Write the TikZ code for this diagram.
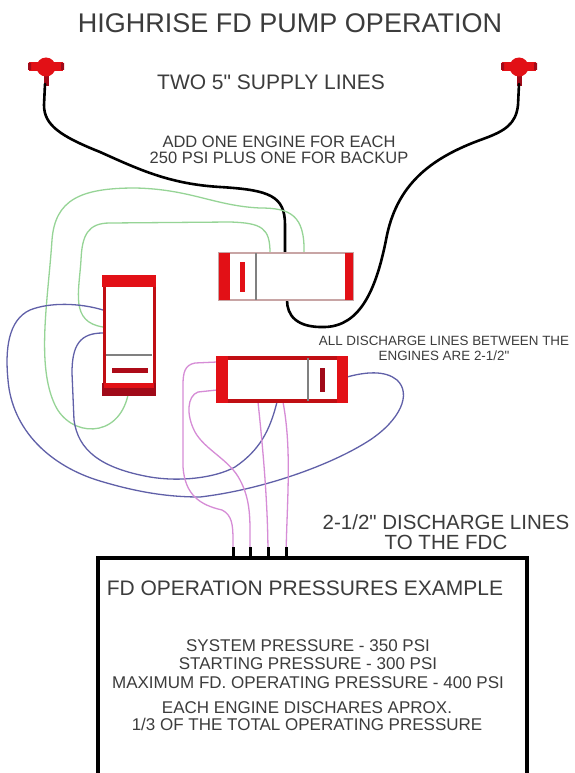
\documentclass[tikz,border=0pt]{standalone}
\usepackage{fontspec}
\setmainfont{Liberation Sans}[Ligatures=TeXOff]
\definecolor{pumpred}{RGB}{226,16,22}
\definecolor{darkred}{RGB}{160,10,25}
\definecolor{hosegreen}{RGB}{150,212,150}
\definecolor{hoseblue}{RGB}{96,96,168}
\definecolor{hosepink}{RGB}{214,140,214}
\definecolor{txt}{RGB}{60,60,60}
\newcommand{\inch}{\symbol{34}}
\tikzset{
  supply/.style={line width=2.6pt,black,line cap=round},
  hose/.style={line width=1.3pt,draw=#1},
  label/.style={text=txt,inner sep=0pt,align=center},
}
\begin{document}
\begin{tikzpicture}[x=1pt,y=-1pt]
  \useasboundingbox (0,0) rectangle (574,773);
  \fill[white] (0,0) rectangle (574,773);
  % titles
  \node[label,font=\fontsize{27}{30}\selectfont] (title) at (290,23) {HIGHRISE FD PUMP OPERATION};
  \node[label,font=\fontsize{21}{24}\selectfont] (twolines) at (271,82) {TWO 5\inch{} SUPPLY LINES};
  \node[label,font=\fontsize{16.5}{16}\selectfont] (addone) at (279,150) {ADD ONE ENGINE FOR EACH\\250 PSI PLUS ONE FOR BACKUP};
  \node[label,font=\fontsize{13.4}{15}\selectfont] (between) at (444,348) {ALL DISCHARGE LINES BETWEEN THE\\ENGINES ARE 2-1/2\inch};
  \node[label,font=\fontsize{20.5}{20}\selectfont] (fdclines) at (446,532) {2-1/2\inch{} DISCHARGE LINES\\TO THE FDC};
  % hydrants
  \foreach \hx in {46,519}{
    \fill[darkred] (\hx-2.5,74) rectangle (\hx+2.5,86);
    \fill[pumpred] (\hx-17,62) rectangle (\hx+17,71);
    \fill[darkred] (\hx-18,63) rectangle (\hx-15,70) (\hx+15,63) rectangle (\hx+18,70);
    \fill[pumpred] (\hx,67) circle (9.5);
  }
  % supply lines
  \draw[supply] (45,84) -- (44,105) .. controls (44,125) and (60,136) .. (100,152)
    .. controls (140,170) and (170,184) .. (220,187)
    .. controls (270,190) and (285,196) .. (285,225) -- (285,253);
  \draw[supply] (519,84) -- (518,105) .. controls (516,124) and (505,131) .. (483,139)
    .. controls (430,158) and (396,185) .. (386,240)
    .. controls (376,290) and (360,326) .. (325,327)
    .. controls (296,328) and (287,315) .. (287,300);
  % hoses between engines
  \draw[hose=hosegreen] (304,253) .. controls (305,215) and (290,208) .. (260,208)
    .. controls (215,206) and (190,189) .. (135,188)
    .. controls (80,188) and (55,200) .. (52,240)
    .. controls (48,300) and (36,365) .. (55,405)
    .. controls (70,437) and (118,440) .. (128,395);
  \draw[hose=hosegreen] (270,253) .. controls (270,228) and (262,223) .. (230,222) -- (110,223)
    .. controls (88,223) and (82,235) .. (81,260)
    .. controls (79,292) and (70,322) .. (103,327);
  \draw[hose=hoseblue] (103,310) .. controls (80,303) and (50,302) .. (30,310)
    .. controls (8,320) and (5,350) .. (8,380)
    .. controls (12,430) and (50,466) .. (100,481)
    .. controls (140,493) and (170,497) .. (200,497)
    .. controls (260,490) and (330,466) .. (370,440)
    .. controls (400,420) and (412,394) .. (397,380)
    .. controls (385,370) and (365,372) .. (347,377);
  \draw[hose=hoseblue] (103,333) .. controls (80,333) and (72,345) .. (72,373) -- (74,420)
    .. controls (78,450) and (100,468) .. (150,477)
    .. controls (180,482) and (215,478) .. (235,467)
    .. controls (260,450) and (270,430) .. (277,402);
  % discharge lines to the FDC
  \draw[hose=hosepink] (217,362) -- (195,363) .. controls (185,365) and (183,372) .. (183,385) -- (183,467)
    .. controls (185,495) and (200,505) .. (222,510)
    .. controls (232,515) and (233,525) .. (233,540) -- (233,556);
  \draw[hose=hosepink] (217,390) -- (198,392) .. controls (187,396) and (186,415) .. (195,432)
    .. controls (205,450) and (230,460) .. (240,480)
    .. controls (248,495) and (250,510) .. (250,530) -- (250,556);
  \draw[hose=hosepink] (258,402) .. controls (262,440) and (268,500) .. (268,556);
  \draw[hose=hosepink] (283,402) .. controls (292,450) and (287,500) .. (286,556);
  \foreach \sx in {233,250,268,286}
    \draw[line width=3pt] (\sx,547) -- (\sx,558);
  % top engine
  \filldraw[fill=white,draw={rgb,255:red,200;green,165;blue,165},line width=1.2pt] (219,253) rectangle (353,300);
  \fill[pumpred] (219,253) rectangle (230,300);
  \fill[pumpred] (345,253) rectangle (353,300);
  \fill[pumpred] (240,262) rectangle (245,292);
  \draw[gray,line width=2pt] (255.5,253) -- (255.5,300);
  % left engine
  \filldraw[fill=white,draw=pumpred!85!black,line width=3pt] (104,278) rectangle (154,394);
  \fill[pumpred] (102,275) rectangle (156,287);
  \fill[darkred] (102,383) rectangle (156,396);
  \fill[pumpred] (104,383) rectangle (154,388);
  \draw[gray,line width=2.5pt] (106,355) -- (152,355);
  \fill[darkred!80!pumpred] (112,368) rectangle (148,373);
  % bottom engine
  \filldraw[fill=white,draw=pumpred!85!black,line width=3.5pt] (218,358) rectangle (346,401);
  \fill[pumpred] (216,356) rectangle (228,403);
  \fill[pumpred] (337,356) rectangle (348,403);
  \draw[gray,line width=2pt] (308,358) -- (308,401);
  \fill[darkred] (320,368) rectangle (325,392);
  % FDC box
  \draw[line width=4pt] (98,790) -- (98,558) -- (527,558) -- (527,790);
  \node[label,font=\fontsize{21}{24}\selectfont] (example) at (305,588) {FD OPERATION PRESSURES EXAMPLE};
  \node[label,font=\fontsize{17}{18.5}\selectfont] (pressures) at (308,664) {SYSTEM PRESSURE - 350 PSI\\STARTING PRESSURE - 300 PSI\\MAXIMUM FD. OPERATING PRESSURE - 400 PSI};
  \node[label,font=\fontsize{17}{17}\selectfont] (share) at (307,716) {EACH ENGINE DISCHARES APROX.\\1/3 OF THE TOTAL OPERATING PRESSURE};
\end{tikzpicture}
\end{document}
